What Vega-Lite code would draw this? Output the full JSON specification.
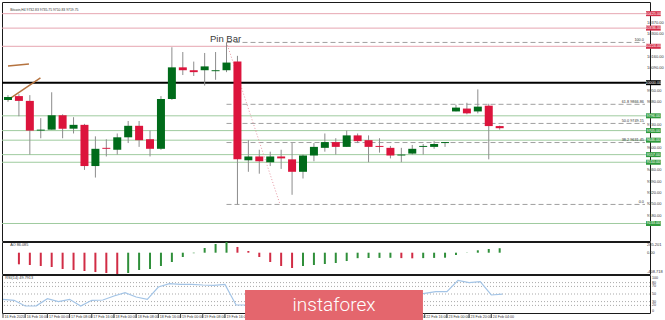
{
  "$schema": "https://vega.github.io/schema/vega-lite/v6.json",
  "background": "#ffffff",
  "padding": {"left": 1, "top": 1, "right": 16, "bottom": 8},
  "spacing": 1,
  "bounds": "flush",
  "config": {
    "view": {"stroke": "#1a1a1a", "strokeWidth": 1},
    "font": "Liberation Sans"
  },
  "datasets": {
    "candles": [
      {"i":0,"open":9893.8,"high":9923.3,"low":9882.0,"close":9911.5},
      {"i":1,"open":9917.4,"high":9929.2,"low":9793.5,"close":9887.9},
      {"i":2,"open":9887.9,"high":9923.3,"low":9557.5,"close":9705.0},
      {"i":3,"open":9705.0,"high":9781.7,"low":9657.8,"close":9710.9},
      {"i":4,"open":9710.9,"high":9941.0,"low":9710.9,"close":9799.4},
      {"i":5,"open":9799.4,"high":9805.3,"low":9657.8,"close":9716.8},
      {"i":6,"open":9716.8,"high":9787.6,"low":9687.3,"close":9740.4},
      {"i":7,"open":9740.4,"high":9746.3,"low":9463.1,"close":9486.7},
      {"i":8,"open":9486.7,"high":9669.6,"low":9415.9,"close":9592.9},
      {"i":9,"open":9598.8,"high":9651.9,"low":9545.7,"close":9592.9},
      {"i":10,"open":9587.0,"high":9687.3,"low":9557.5,"close":9663.7},
      {"i":11,"open":9663.7,"high":9764.0,"low":9628.3,"close":9734.5},
      {"i":12,"open":9734.5,"high":9764.0,"low":9604.7,"close":9646.0},
      {"i":13,"open":9651.9,"high":9705.0,"low":9545.7,"close":9592.9},
      {"i":14,"open":9592.9,"high":9917.4,"low":9587.0,"close":9899.7},
      {"i":15,"open":9899.7,"high":10218.3,"low":9893.8,"close":10094.4},
      {"i":16,"open":10094.4,"high":10188.8,"low":10047.2,"close":10076.7},
      {"i":17,"open":10076.7,"high":10129.8,"low":10041.3,"close":10064.9},
      {"i":18,"open":10076.7,"high":10182.9,"low":9982.3,"close":10100.3},
      {"i":19,"open":10070.8,"high":10188.8,"low":10017.7,"close":10076.7},
      {"i":20,"open":10076.7,"high":10247.9,"low":10064.9,"close":10123.9},
      {"i":21,"open":10129.8,"high":10165.2,"low":9250.4,"close":9528.0},
      {"i":22,"open":9522.1,"high":9646.0,"low":9451.3,"close":9545.7},
      {"i":23,"open":9545.7,"high":9587.0,"low":9439.5,"close":9516.2},
      {"i":24,"open":9510.3,"high":9575.2,"low":9486.7,"close":9545.7},
      {"i":25,"open":9545.7,"high":9587.0,"low":9469.0,"close":9533.9},
      {"i":26,"open":9528.0,"high":9628.3,"low":9309.7,"close":9451.3},
      {"i":27,"open":9451.3,"high":9557.5,"low":9410.0,"close":9551.6},
      {"i":28,"open":9551.6,"high":9628.3,"low":9516.2,"close":9604.7},
      {"i":29,"open":9598.8,"high":9687.3,"low":9575.2,"close":9634.2},
      {"i":30,"open":9634.2,"high":9657.8,"low":9557.5,"close":9604.7},
      {"i":31,"open":9604.7,"high":9705.0,"low":9604.7,"close":9675.5},
      {"i":32,"open":9675.5,"high":9687.3,"low":9628.3,"close":9640.1},
      {"i":33,"open":9646.0,"high":9675.5,"low":9510.3,"close":9604.7},
      {"i":34,"open":9610.6,"high":9657.8,"low":9569.3,"close":9604.7},
      {"i":35,"open":9598.8,"high":9610.6,"low":9533.9,"close":9551.6},
      {"i":36,"open":9551.6,"high":9598.8,"low":9510.3,"close":9557.5},
      {"i":37,"open":9563.4,"high":9616.5,"low":9557.5,"close":9592.9},
      {"i":38,"open":9604.7,"high":9622.4,"low":9557.5,"close":9610.6},
      {"i":39,"open":9604.7,"high":9640.1,"low":9592.9,"close":9622.4},
      {"i":40,"open":9628.3,"high":9634.2,"low":9604.7,"close":9634.2},
      {"i":41,"open":9823.0,"high":9864.3,"low":9823.0,"close":9846.6},
      {"i":42,"open":9840.7,"high":9876.1,"low":9805.3,"close":9811.2},
      {"i":43,"open":9823.0,"high":9958.7,"low":9811.2,"close":9852.5},
      {"i":44,"open":9858.4,"high":9870.2,"low":9528.0,"close":9732.83},
      {"i":45,"open":9732.83,"high":9735.75,"low":9710.83,"close":9719.75}
    ],
    "levels": [
      {"price":10425,"kind":"resistance"},
      {"price":10336,"kind":"resistance"},
      {"price":10224,"kind":"resistance"},
      {"price":10000,"kind":"pivot"},
      {"price":9796,"kind":"support"},
      {"price":9705,"kind":"support"},
      {"price":9646,"kind":"support"},
      {"price":9557,"kind":"support"},
      {"price":9510,"kind":"support"},
      {"price":9133,"kind":"support"}
    ],
    "priceScale": [
      {"price":9180},{"price":9250},{"price":9320},{"price":9390},{"price":9460},
      {"price":9600},{"price":9740},{"price":9880},{"price":9950},{"price":10090},
      {"price":10160},{"price":10300},{"price":10370}
    ],
    "fib": [
      {"ratio":100,"price":10247.9,"label":"100.0"},
      {"ratio":61.8,"price":9866.86,"label":"61.8 9866.86"},
      {"ratio":50,"price":9749.15,"label":"50.0 9749.15"},
      {"ratio":38.2,"price":9631.45,"label":"38.2 9631.45"},
      {"ratio":0,"price":9250.4,"label":"0.0"}
    ],
    "fibAnchors": [
      {"i":20,"price":10247.9},
      {"i":24.9,"price":9250.4}
    ],
    "trendlines": [
      {"line":"upper","i":0,"price":10103.3},
      {"line":"upper","i":1.92,"price":10115.1},
      {"line":"lower","i":0,"price":9893.8},
      {"line":"lower","i":2.97,"price":10029.5}
    ],
    "notes": [
      {"i":20,"price":10247.9,"note":"Pin Bar"}
    ],
    "ao": [
      {"i":1,"ao":-223,"trend":"falling"},{"i":2,"ao":-236,"trend":"falling"},
      {"i":3,"ao":-255,"trend":"falling"},{"i":4,"ao":-275,"trend":"falling"},
      {"i":5,"ao":-313,"trend":"falling"},{"i":6,"ao":-332,"trend":"falling"},
      {"i":7,"ao":-351,"trend":"falling"},{"i":8,"ao":-371,"trend":"falling"},
      {"i":9,"ao":-390,"trend":"falling"},{"i":10,"ao":-408.718,"trend":"falling"},
      {"i":11,"ao":-390,"trend":"rising"},{"i":12,"ao":-332,"trend":"rising"},
      {"i":13,"ao":-313,"trend":"rising"},{"i":14,"ao":-255,"trend":"rising"},
      {"i":15,"ao":-179,"trend":"rising"},{"i":16,"ao":-83,"trend":"rising"},
      {"i":17,"ao":-10,"trend":"rising"},{"i":18,"ao":90,"trend":"rising"},
      {"i":19,"ao":167,"trend":"rising"},{"i":20,"ao":205.201,"trend":"rising"},
      {"i":21,"ao":110,"trend":"falling"},{"i":22,"ao":33,"trend":"falling"},
      {"i":23,"ao":-83,"trend":"falling"},{"i":24,"ao":-179,"trend":"falling"},
      {"i":25,"ao":-255,"trend":"falling"},{"i":26,"ao":-294,"trend":"falling"},
      {"i":27,"ao":-255,"trend":"rising"},{"i":28,"ao":-236,"trend":"rising"},
      {"i":29,"ao":-217,"trend":"rising"},{"i":30,"ao":-198,"trend":"rising"},
      {"i":31,"ao":-160,"trend":"rising"},{"i":32,"ao":-105,"trend":"rising"},
      {"i":33,"ao":-102,"trend":"rising"},{"i":34,"ao":-100,"trend":"rising"},
      {"i":35,"ao":-98,"trend":"rising"},{"i":36,"ao":-104,"trend":"falling"},
      {"i":37,"ao":-108,"trend":"falling"},{"i":38,"ao":-104,"trend":"rising"},
      {"i":39,"ao":-100,"trend":"rising"},{"i":40,"ao":-96,"trend":"rising"},
      {"i":41,"ao":-44,"trend":"rising"},{"i":42,"ao":4,"trend":"rising"},
      {"i":43,"ao":46,"trend":"rising"},{"i":44,"ao":71,"trend":"rising"},
      {"i":45,"ao":86.085,"trend":"rising"}
    ],
    "rsi": [
      {"i":0,"rsi":36.0},{"i":1,"rsi":33.4},{"i":2,"rsi":18.4},{"i":3,"rsi":18.9},
      {"i":4,"rsi":37.7},{"i":5,"rsi":29.8},{"i":6,"rsi":36.0},{"i":7,"rsi":18.4},
      {"i":8,"rsi":33.4},{"i":9,"rsi":34.2},{"i":10,"rsi":44.7},{"i":11,"rsi":53.5},
      {"i":12,"rsi":42.1},{"i":13,"rsi":36.0},{"i":14,"rsi":68.4},{"i":15,"rsi":77.2},
      {"i":16,"rsi":75.4},{"i":17,"rsi":75.4},{"i":18,"rsi":73.7},{"i":19,"rsi":72.8},
      {"i":20,"rsi":75.4},{"i":21,"rsi":21.1},{"i":22,"rsi":21.1},{"i":23,"rsi":22.0},
      {"i":24,"rsi":26.0},{"i":25,"rsi":25.0},{"i":26,"rsi":22.0},{"i":27,"rsi":33.0},
      {"i":28,"rsi":40.0},{"i":29,"rsi":45.0},{"i":30,"rsi":43.0},{"i":31,"rsi":50.0},
      {"i":32,"rsi":47.0},{"i":33,"rsi":43.0},{"i":34,"rsi":43.0},{"i":35,"rsi":40.0},
      {"i":36,"rsi":42.0},{"i":37,"rsi":47.0},{"i":38,"rsi":51.8},{"i":39,"rsi":56.1},
      {"i":40,"rsi":56.1},{"i":41,"rsi":86.0},{"i":42,"rsi":79.8},{"i":43,"rsi":82.4},
      {"i":44,"rsi":47.4},{"i":45,"rsi":49.7913}
    ],
    "rsiLevels": [
      {"level":20},{"level":30},{"level":50},{"level":70},{"level":80}
    ],
    "sessions": [
      {"i":0,"time":"16 Feb 2020"},{"i":2,"time":"16 Feb 16:00"},{"i":4,"time":"17 Feb 00:00"},
      {"i":6,"time":"17 Feb 08:00"},{"i":8,"time":"17 Feb 16:00"},{"i":10,"time":"18 Feb 00:00"},
      {"i":12,"time":"18 Feb 08:00"},{"i":14,"time":"18 Feb 16:00"},{"i":16,"time":"19 Feb 00:00"},
      {"i":18,"time":"19 Feb 08:00"},{"i":20,"time":"19 Feb 16:00"},{"i":22,"time":"20 Feb 00:00"},
      {"i":24,"time":"20 Feb 08:00"},{"i":26,"time":"20 Feb 16:00"},{"i":28,"time":"21 Feb 00:00"},
      {"i":30,"time":"21 Feb 08:00"},{"i":32,"time":"21 Feb 16:00"},{"i":34,"time":"22 Feb 00:00"},
      {"i":36,"time":"22 Feb 08:00"},{"i":38,"time":"22 Feb 16:00"},{"i":40,"time":"23 Feb 00:00"},
      {"i":42,"time":"23 Feb 20:00"},{"i":44,"time":"24 Feb 04:00"}
    ]
  },
  "vconcat": [
    {
      "width": 648,
      "height": 239,
      "layer": [
        {
          "data": {"name": "levels"},
          "mark": {"type": "rule", "clip": true},
          "encoding": {
            "y": {"field": "price", "type": "quantitative", "scale": {"domain": [9056, 10466], "nice": false, "zero": false}, "axis": null},
            "color": {
              "condition": [
                {"test": "datum.kind == 'pivot'", "value": "#000000"},
                {"test": "datum.kind == 'support'", "value": "#9fcb9f"}
              ],
              "value": "#e6a6b1"
            },
            "strokeWidth": {"condition": {"test": "datum.kind == 'pivot'", "value": 2}, "value": 1}
          }
        },
        {
          "data": {"name": "fib"},
          "mark": {"type": "rule", "clip": true, "color": "#9f9f9f", "strokeDash": [5, 3], "strokeWidth": 1},
          "encoding": {
            "x": {"datum": 20, "type": "quantitative", "scale": {"domain": [-0.09, 58.3], "nice": false, "zero": false}, "axis": null},
            "x2": {"datum": 58.3},
            "y": {"field": "price", "type": "quantitative", "axis": null}
          }
        },
        {
          "data": {"name": "fibAnchors"},
          "mark": {"type": "line", "clip": true, "color": "#e79aa6", "strokeDash": [1, 2], "strokeWidth": 1},
          "encoding": {
            "x": {"field": "i", "type": "quantitative", "axis": null},
            "y": {"field": "price", "type": "quantitative", "axis": null}
          }
        },
        {
          "data": {"name": "trendlines"},
          "mark": {"type": "line", "clip": true, "color": "#b5733f", "strokeWidth": 1.5},
          "encoding": {
            "x": {"field": "i", "type": "quantitative", "axis": null},
            "y": {"field": "price", "type": "quantitative", "axis": null},
            "detail": {"field": "line"}
          }
        },
        {
          "data": {"name": "candles"},
          "mark": {"type": "rule", "clip": true, "color": "#8c8c8c", "strokeWidth": 1},
          "encoding": {
            "x": {"field": "i", "type": "quantitative", "axis": null},
            "y": {"field": "low", "type": "quantitative", "axis": null},
            "y2": {"field": "high"}
          }
        },
        {
          "data": {"name": "candles"},
          "mark": {"type": "bar", "clip": true, "size": 8},
          "encoding": {
            "x": {"field": "i", "type": "quantitative", "axis": null},
            "y": {"field": "open", "type": "quantitative", "axis": null},
            "y2": {"field": "close"},
            "color": {"condition": {"test": "datum.close >= datum.open", "value": "#006b1a"}, "value": "#dc143c"}
          }
        },
        {
          "data": {"name": "fib"},
          "mark": {"type": "text", "align": "right", "baseline": "bottom", "dy": -0.5, "fontSize": 3.8, "color": "#333333"},
          "encoding": {
            "x": {"datum": 58.2, "type": "quantitative", "axis": null},
            "y": {"field": "price", "type": "quantitative", "axis": null},
            "text": {"field": "label"}
          }
        },
        {
          "data": {"name": "notes"},
          "mark": {"type": "text", "align": "center", "baseline": "alphabetic", "dx": -1, "dy": -0.5, "fontSize": 9.5, "color": "#3a3a3a"},
          "encoding": {
            "x": {"field": "i", "type": "quantitative", "axis": null},
            "y": {"field": "price", "type": "quantitative", "axis": null},
            "text": {"field": "note"}
          }
        },
        {
          "data": {"values": [{}]},
          "mark": {"type": "text", "text": "Bitcoin,H4  9732.83 9735.75 9710.83 9719.75", "align": "left", "baseline": "middle", "fontSize": 3.4, "color": "#333333"},
          "encoding": {
            "x": {"datum": 0.2, "type": "quantitative", "axis": null},
            "y": {"datum": 10448, "type": "quantitative", "axis": null}
          }
        },
        {
          "data": {"name": "priceScale"},
          "mark": {"type": "text", "align": "left", "baseline": "middle", "dx": 2, "fontSize": 4, "color": "#333333"},
          "encoding": {
            "x": {"datum": 58.3, "type": "quantitative", "axis": null},
            "y": {"field": "price", "type": "quantitative", "axis": null},
            "text": {"field": "price", "format": ".2f"}
          }
        },
        {
          "data": {"name": "levels"},
          "mark": {"type": "bar", "size": 5},
          "encoding": {
            "x": {"datum": 58.39, "type": "quantitative", "axis": null},
            "x2": {"datum": 59.74},
            "y": {"field": "price", "type": "quantitative", "axis": null},
            "color": {
              "condition": [
                {"test": "datum.kind == 'pivot'", "value": "#000000"},
                {"test": "datum.kind == 'support'", "value": "#2f9a3c"}
              ],
              "value": "#d42f4a"
            }
          }
        },
        {
          "data": {"name": "levels"},
          "mark": {"type": "text", "align": "center", "baseline": "middle", "fontSize": 3.8, "color": "#ffffff"},
          "encoding": {
            "x": {"datum": 59.06, "type": "quantitative", "axis": null},
            "y": {"field": "price", "type": "quantitative", "axis": null},
            "text": {"field": "price", "format": ".2f"}
          }
        }
      ]
    },
    {
      "width": 648,
      "height": 32,
      "layer": [
        {
          "data": {"name": "ao"},
          "mark": {"type": "bar", "size": 2, "clip": true},
          "encoding": {
            "x": {"field": "i", "type": "quantitative", "scale": {"domain": [-0.09, 58.3], "nice": false, "zero": false}, "axis": null},
            "y": {"field": "ao", "type": "quantitative", "scale": {"domain": [-408.718, 205.201], "nice": false}, "axis": null},
            "color": {"condition": {"test": "datum.trend == 'rising'", "value": "#2f8f3a"}, "value": "#d12c45"}
          }
        },
        {
          "data": {"values": [{}]},
          "mark": {"type": "text", "text": "AO 86.085", "align": "left", "baseline": "middle", "fontSize": 3.8, "color": "#333333"},
          "encoding": {
            "x": {"datum": 0.2, "type": "quantitative", "axis": null},
            "y": {"datum": 150, "type": "quantitative", "axis": null}
          }
        },
        {
          "data": {"values": [{}]},
          "mark": {"type": "text", "text": "205.201", "align": "left", "baseline": "top", "dx": 2, "dy": 0.5, "fontSize": 4, "color": "#333333"},
          "encoding": {
            "x": {"datum": 58.3, "type": "quantitative", "axis": null},
            "y": {"datum": 205.201, "type": "quantitative", "axis": null}
          }
        },
        {
          "data": {"values": [{}]},
          "mark": {"type": "text", "text": "0.00", "align": "left", "baseline": "middle", "dx": 2, "fontSize": 4, "color": "#333333"},
          "encoding": {
            "x": {"datum": 58.3, "type": "quantitative", "axis": null},
            "y": {"datum": 0, "type": "quantitative", "axis": null}
          }
        },
        {
          "data": {"values": [{}]},
          "mark": {"type": "text", "text": "-408.718", "align": "left", "baseline": "bottom", "dx": 2, "dy": -0.5, "fontSize": 4, "color": "#333333"},
          "encoding": {
            "x": {"datum": 58.3, "type": "quantitative", "axis": null},
            "y": {"datum": -408.718, "type": "quantitative", "axis": null}
          }
        }
      ]
    },
    {
      "width": 648,
      "height": 38,
      "layer": [
        {
          "data": {"name": "rsiLevels"},
          "mark": {"type": "rule", "color": "#a9a9a9", "strokeDash": [1, 2], "strokeWidth": 1},
          "encoding": {
            "y": {"field": "level", "type": "quantitative", "scale": {"domain": [0, 100], "nice": false}, "axis": null}
          }
        },
        {
          "data": {"name": "rsi"},
          "mark": {"type": "line", "clip": true, "color": "#a3c4e6", "strokeWidth": 1.2},
          "encoding": {
            "x": {"field": "i", "type": "quantitative", "scale": {"domain": [-0.09, 58.3], "nice": false, "zero": false}, "axis": null},
            "y": {"field": "rsi", "type": "quantitative", "axis": null}
          }
        },
        {
          "data": {"values": [{}]},
          "mark": {"type": "text", "text": "RSI(14) 49.7913", "align": "left", "baseline": "middle", "fontSize": 3.8, "color": "#333333"},
          "encoding": {
            "x": {"datum": 0.2, "type": "quantitative", "axis": null},
            "y": {"datum": 92, "type": "quantitative", "axis": null}
          }
        },
        {
          "data": {"name": "rsiLevels"},
          "mark": {"type": "text", "align": "left", "baseline": "middle", "dx": 2, "fontSize": 3.6, "color": "#333333"},
          "encoding": {
            "x": {"datum": 58.3, "type": "quantitative", "axis": null},
            "y": {"field": "level", "type": "quantitative", "axis": null},
            "text": {"field": "level"}
          }
        },
        {
          "data": {"values": [{}]},
          "mark": {"type": "text", "text": "100", "align": "left", "baseline": "top", "dx": 2, "dy": 0.5, "fontSize": 3.6, "color": "#333333"},
          "encoding": {
            "x": {"datum": 58.3, "type": "quantitative", "axis": null},
            "y": {"datum": 100, "type": "quantitative", "axis": null}
          }
        },
        {
          "data": {"values": [{}]},
          "mark": {"type": "text", "text": "0", "align": "left", "baseline": "bottom", "dx": 2, "dy": -0.5, "fontSize": 3.6, "color": "#333333"},
          "encoding": {
            "x": {"datum": 58.3, "type": "quantitative", "axis": null},
            "y": {"datum": 0, "type": "quantitative", "axis": null}
          }
        },
        {
          "data": {"name": "sessions"},
          "mark": {"type": "rule", "color": "#444444", "strokeWidth": 1},
          "encoding": {
            "x": {"field": "i", "type": "quantitative", "axis": null},
            "y": {"datum": 0, "type": "quantitative", "axis": null},
            "y2": {"datum": -13}
          }
        },
        {
          "data": {"name": "sessions"},
          "mark": {"type": "text", "align": "left", "baseline": "top", "dx": 1.5, "fontSize": 3.6, "color": "#333333"},
          "encoding": {
            "x": {"field": "i", "type": "quantitative", "axis": null},
            "y": {"datum": -4, "type": "quantitative", "axis": null},
            "text": {"field": "time"}
          }
        },
        {
          "data": {"values": [{}]},
          "mark": {"type": "rect", "color": "#e4666d"},
          "encoding": {
            "x": {"datum": 21.81, "type": "quantitative", "axis": null},
            "x2": {"datum": 37.84},
            "y": {"datum": 60.5, "type": "quantitative", "axis": null},
            "y2": {"datum": -21}
          }
        },
        {
          "data": {"values": [{}]},
          "mark": {"type": "text", "text": "instaforex", "align": "center", "baseline": "alphabetic", "font": "Roboto", "fontWeight": 300, "fontSize": 19, "color": "#ffffff"},
          "encoding": {
            "x": {"datum": 29.83, "type": "quantitative", "axis": null},
            "y": {"datum": 5.3, "type": "quantitative", "axis": null}
          }
        }
      ]
    }
  ]
}
